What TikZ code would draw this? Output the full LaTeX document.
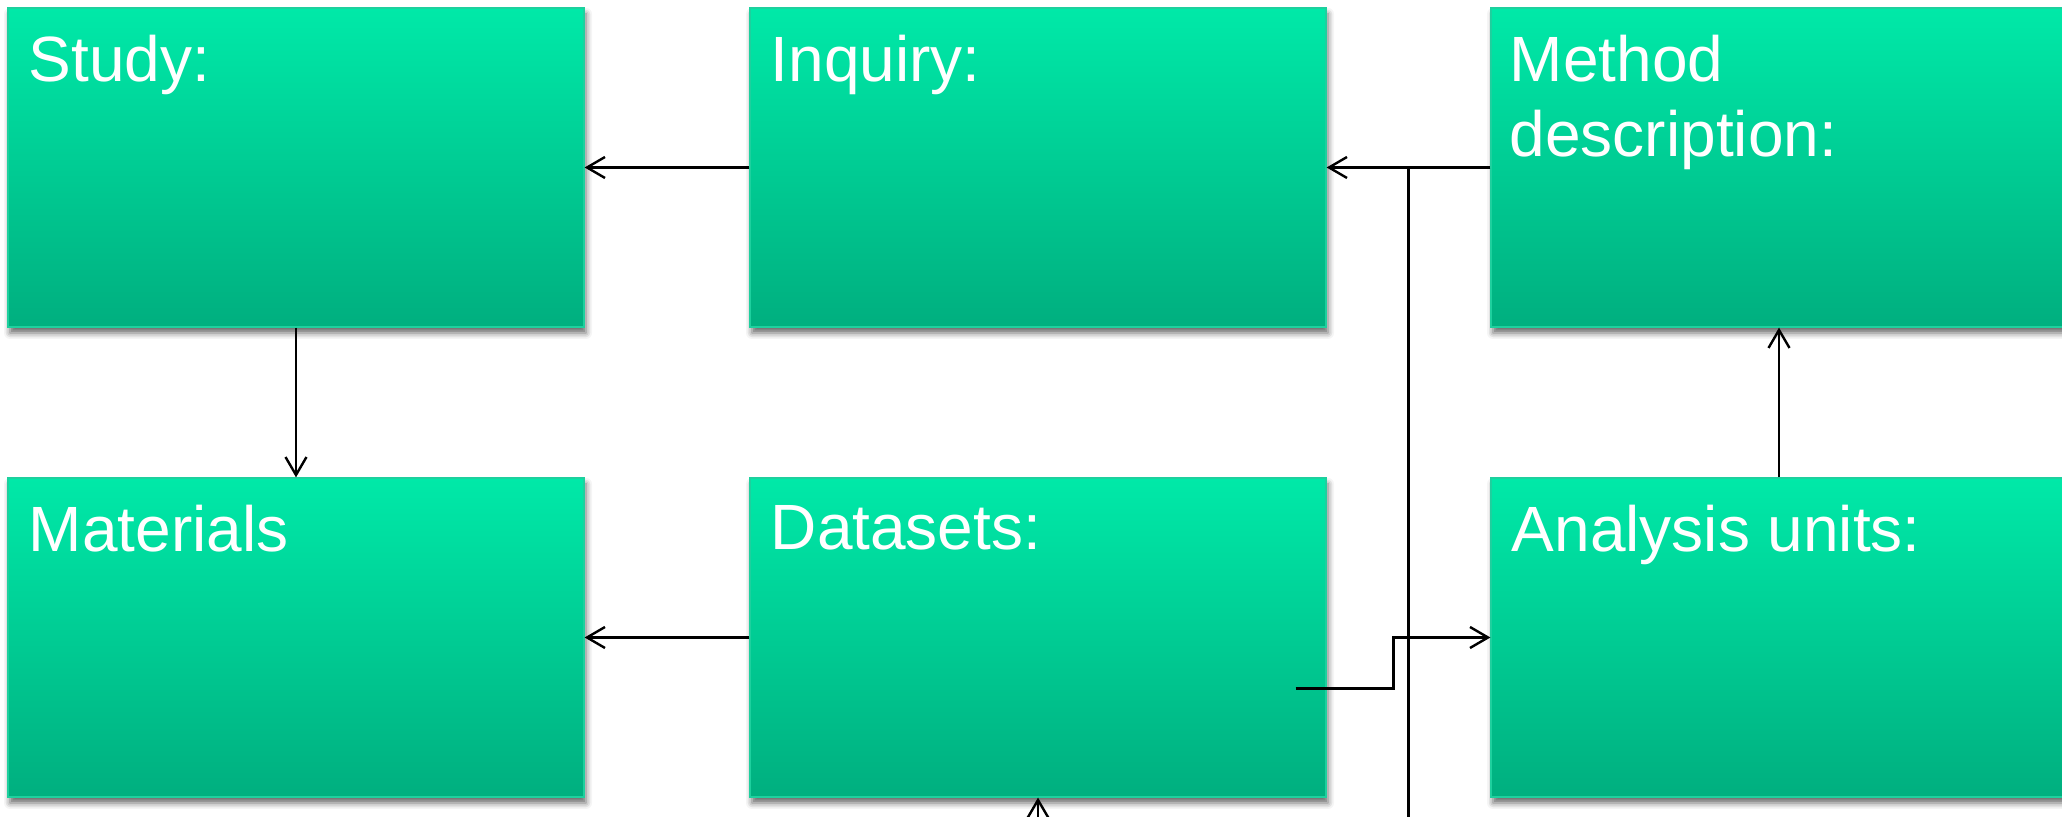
\documentclass[tikz,border=0pt]{standalone}
\usepackage{fontspec}
\setmainfont{Liberation Sans}
\usetikzlibrary{arrows.meta}
\usetikzlibrary{calc}
\usetikzlibrary{positioning, shadows.blur}
\definecolor{paneltop}{RGB}{0,233,168}
\definecolor{panelbot}{RGB}{0,175,127}
\definecolor{panelline}{RGB}{30,208,158}
\tikzset{
  panel/.style={rectangle, draw=panelline, line width=0.6pt,
    top color=paneltop, bottom color=panelbot,
    minimum width=288pt, minimum height=159.5pt, inner sep=0pt,
    blur shadow={shadow xshift=1pt, shadow yshift=-3pt,
      shadow blur radius=3pt, shadow opacity=60}},
  paneltext/.style={anchor=north west, inner sep=0pt, align=left,
    text=white, font=\fontsize{32}{37.5}\selectfont},
  conn/.style={line width=1.2pt, -{Straight Barb[length=9pt,width=10.5pt]}}
}

\begin{document}
\begin{tikzpicture}[x=0.5pt,y=0.5pt]
  \useasboundingbox (0,0) rectangle (2062,817);
  \def\colA{296}
  \def\colB{1038}
  \def\colC{1779}
  \def\rowA{649.5}
  \def\rowB{179.5}

  \node[panel] (study)    at (\colA,\rowA) {};
  \node[panel] (inquiry)  at (\colB,\rowA) {};
  \node[panel] (method)   at (\colC,\rowA) {};
  \node[panel] (materials) at (\colA,\rowB) {};
  \node[panel] (datasets) at (\colB,\rowB) {};
  \node[panel] (analysis) at (\colC,\rowB) {};

  \node[paneltext] (studyt)    at ($(study.north west)+(21,-27)$) {Study:};
  \node[paneltext] (inquiryt)  at ($(inquiry.north west)+(21,-27)$) {Inquiry:};
  \node[paneltext] (methodt)   at ($(method.north west)+(19,-27)$) {Method\\description:};
  \node[paneltext] (materialst) at ($(materials.north west)+(21,-27)$) {Materials};
  \node[paneltext] (datasetst) at ($(datasets.north west)+(21,-28)$) {Datasets:};
  \node[paneltext] (analysist) at ($(analysis.north west)+(21,-27)$) {Analysis units:};

  \coordinate (junction) at ($(inquiry.east)!0.5!(method.west)$);
  \coordinate (junctionend) at (junction |- 0,-10);
  \coordinate (dsin) at (datasets.south |- 0,-10);
  \coordinate (dsout) at ($(datasets.east)+(-31,-51)$);

  \draw[conn] (inquiry.west) -- (study.east);
  \draw[conn] (method.west) -- (inquiry.east);
  \draw[line width=1.2pt] (junction) -- (junctionend);
  \draw[conn] (study.south) -- (materials.north);
  \draw[conn] (datasets.west) -- (materials.east);
  \draw[conn] (dsout) -- ++(98,0) |- (analysis.west);
  \draw[conn] (analysis.north) -- (method.south);
  \draw[conn] (dsin) -- (datasets.south);
\end{tikzpicture}
\end{document}
